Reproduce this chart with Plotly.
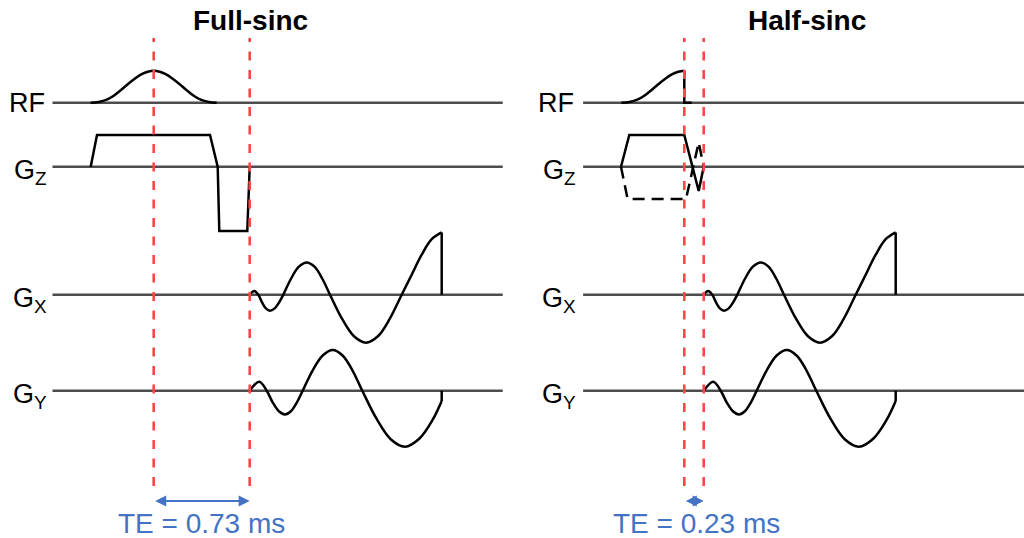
import plotly.graph_objects as go

# ---------------- data (time in a.u. relative to RF centre, amplitude in a.u.) ----------------
PANEL_TITLES = ["Full-sinc", "Half-sinc"]
CHANNELS = ["RF", "G<sub>Z</sub>", "G<sub>X</sub>", "G<sub>Y</sub>"]
TE_VALUES = [96.0, 19.4]               # echo time in diagram units (RF centre -> readout start)
TE_LABELS = ["TE = 0.73 ms", "TE = 0.23 ms"]

# RF pulse (full sinc main lobe)
RF_FULL_T = [-63, -55, -47, -40, -33, -26, -19, -12, -6, 0, 6, 12, 19, 26, 33, 40, 47, 55, 63]
RF_FULL_A = [0, 0.8, 3, 7, 12.5, 18.5, 24, 28.5, 31, 32, 31, 28.5, 24, 18.5, 12.5, 7, 3, 0.8, 0]
# RF pulse (half sinc), truncated at its peak
RF_HALF_T = [-63, -55, -47, -40, -33, -26, -19, -12, -6, 0]
RF_HALF_A = [0, 0.8, 3, 7, 12.5, 18.5, 24, 28.5, 31, 32]
RF_HALF_END_T = [0, 0, 7.4]
RF_HALF_END_A = [32, 0, 0]

# slice-select gradient
GZ_FULL_T = [-63, -56.7, 56.3, 64, 65.6, 93.6, 96]
GZ_FULL_A = [0, 31.7, 31.7, 0, -64.3, -64.3, 0]
GZ_HALF_T = [-63.3, -55, 0, 14.4, 19.4]
GZ_HALF_A = [0, 31.7, 31.7, -24.3, 0]
GZ_HALF_ALT_T = [-63.3, -56.7, 1.7, 14.4, 19.4]
GZ_HALF_ALT_A = [0, -32.3, -32.3, 24.3, 0]

# spiral readout gradients, time relative to readout start (= TE)
GX_T = [0, 4.6, 8.6, 12.5, 16.4, 20.3, 24.7, 29.2, 33.6,
        41.4, 49.2, 57, 64.8, 72.5, 80.3,
        92.3, 104.3, 116.3, 128.2, 140.1, 152,
        162, 172, 182, 192]
GX_A = [0, 3.7, 0, -8, -13.9, -16, -13.9, -8, 0,
        16.2, 28, 32.3, 28, 16.2, 0,
        -24, -41.6, -48, -41.6, -24, 0,
        20, 40, 55.5, 62.3]
GY_T = [0, 9.6, 17, 23.1, 29.2, 35.3, 41.2, 47.1, 53,
        63, 73, 83, 92.9, 102.7, 112.6,
        126.8, 141, 155.3, 169.5, 183, 192]
GY_A = [0, 9, 0, -11.9, -20.5, -23.7, -20.5, -11.9, 0,
        20.4, 35.2, 40.7, 35.2, 20.4, 0,
        -28, -48.5, -56, -48, -29, -10.3]
BASELINE_T = [-101.2, 349]

# ---------------- layout / style ----------------
W, H = 1024, 538
ROW_BASE_PX = [102.7, 166.7, 294.7, 390.7]       # vertical position of each channel baseline
HALF = 0.14                                      # half-height of each channel axis (paper)
PANEL_X_RANGE = [[-153.7, 358.3], [-172.3, 339.7]]
TITLE_X_PX = [250, 807]
LABEL_RIGHT_PX = [[46.7, 48.5, 48.5, 48.5], [575.5, 577.5, 577.5, 577.5]]
TE_TEXT_X_PX = [201.8, 696.5]
BLACK = "#000000"
BASE_GRAY = "#4d4d4d"
RED = "#ff4545"
BLUE = "#4472c4"
FONT = "Liberation Sans, Arial, sans-serif"

fig = go.Figure()

xa = ["x", "x2"]
ya = ["y", "y2", "y3", "y4"]


def add_line(t, a, xax, yax, color=BLACK, width=2.5, shape="linear", dash="solid"):
    fig.add_trace(go.Scatter(x=t, y=a, xaxis=xax, yaxis=yax, mode="lines",
                             line=dict(color=color, width=width, shape=shape, dash=dash),
                             hoverinfo="skip", showlegend=False))


# baselines
for p in range(2):
    for r in range(4):
        add_line(BASELINE_T, [0, 0], xa[p], ya[r], color=BASE_GRAY, width=2.5)

# left panel (full sinc)
add_line(RF_FULL_T, RF_FULL_A, "x", "y", shape="spline")
add_line(GZ_FULL_T, GZ_FULL_A, "x", "y2")
# right panel (half sinc)
add_line(RF_HALF_T, RF_HALF_A, "x2", "y", shape="spline")
add_line(RF_HALF_END_T, RF_HALF_END_A, "x2", "y")
add_line(GZ_HALF_T, GZ_HALF_A, "x2", "y2")
add_line(GZ_HALF_ALT_T, GZ_HALF_ALT_A, "x2", "y2", dash="12px,7px")

# readouts
for p in range(2):
    te = TE_VALUES[p]
    gx_t = [te + v for v in GX_T]
    gy_t = [te + v for v in GY_T]
    add_line(gx_t, GX_A, xa[p], "y3", shape="spline")
    add_line([gx_t[-1], gx_t[-1]], [GX_A[-1], 0], xa[p], "y3")
    add_line(gy_t, GY_A, xa[p], "y4", shape="spline")
    add_line([gy_t[-1], gy_t[-1]], [GY_A[-1], 0], xa[p], "y4")

shapes = []
annotations = []
for p in range(2):
    te = TE_VALUES[p]
    for xv in (0, te):
        shapes.append(dict(type="line", xref=xa[p], yref="paper", x0=xv, x1=xv,
                           y0=1 - 486 / H, y1=1 - 38 / H,
                           line=dict(color=RED, width=2.6, dash="9px,9.5px")))
    # TE arrow
    annotations.append(dict(xref=xa[p], yref="paper", x=te, y=1 - 501 / H,
                            axref=xa[p], ayref="pixel", ax=0, ay=0, text="",
                            showarrow=True, arrowhead=2, arrowside="end+start",
                            arrowwidth=2, arrowsize=1.1, arrowcolor=BLUE, standoff=0,
                            startstandoff=0))
    annotations.append(dict(xref="paper", yref="paper", x=TE_TEXT_X_PX[p] / W, y=1 - 523 / H,
                            text=TE_LABELS[p], showarrow=False, xanchor="center", yanchor="middle",
                            font=dict(family=FONT, size=28, color=BLUE)))
    annotations.append(dict(xref="paper", yref="paper", x=TITLE_X_PX[p] / W, y=1 - 21 / H,
                            text="<b>" + PANEL_TITLES[p] + "</b>", showarrow=False,
                            xanchor="center", yanchor="middle",
                            font=dict(family=FONT, size=28, color=BLACK)))
    for r in range(4):
        sub = "<sub>" in CHANNELS[r]
        annotations.append(dict(xref="paper", yref=ya[r], x=LABEL_RIGHT_PX[p][r] / W, y=0,
                                text=CHANNELS[r], showarrow=False, xanchor="right",
                                yanchor="middle", yshift=-5 if sub else 0,
                                font=dict(family=FONT, size=27, color=BLACK)))

layout = dict(
    width=W, height=H, autosize=False,
    margin=dict(l=0, r=0, t=0, b=0, pad=0),
    paper_bgcolor="white", plot_bgcolor="rgba(0,0,0,0)",
    shapes=shapes, annotations=annotations, showlegend=False,
)
axis_common = dict(visible=False, showgrid=False, zeroline=False, fixedrange=True)
layout["xaxis"] = dict(domain=[0, 0.5], range=PANEL_X_RANGE[0], anchor="free", position=0, **axis_common)
layout["xaxis2"] = dict(domain=[0.5, 1], range=PANEL_X_RANGE[1], anchor="free", position=0, **axis_common)
for r in range(4):
    f = 1 - ROW_BASE_PX[r] / H
    half_units = HALF * H
    key = "yaxis" if r == 0 else "yaxis%d" % (r + 1)
    layout[key] = dict(domain=[f - HALF, f + HALF], range=[-half_units, half_units],
                       anchor="free", position=0, **axis_common)
fig.update_layout(**layout)

fig.write_html("out.html", config={"displayModeBar": False},
               post_script="document.body.style.margin='0';")
